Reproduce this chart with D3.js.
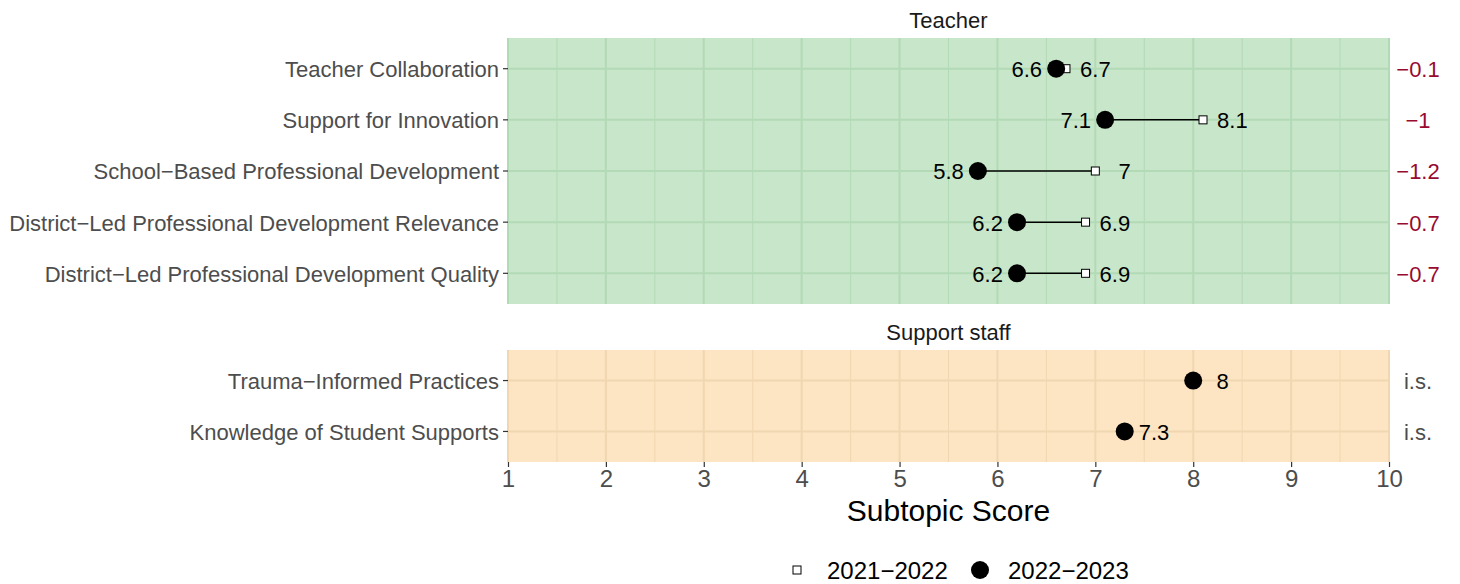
<!DOCTYPE html>
<html>
<head>
<meta charset="utf-8">
<script src="https://cdn.jsdelivr.net/npm/d3@7"></script>
<style>
  body { margin: 0; background: #fff; }
  text { font-family: "Liberation Sans", Arial, sans-serif; }
</style>
</head>
<body>
<div id="chart"></div>
<script>
// === data
var teacherTopics = ["Teacher Collaboration", "Support for Innovation", "School\u2212Based Professional Development",
  "District\u2212Led Professional Development Relevance", "District\u2212Led Professional Development Quality"];
var teacherPrev = [6.7, 8.1, 7, 6.9, 6.9];
var teacherCurr = [6.6, 7.1, 5.8, 6.2, 6.2];
var teacherDiff = ["\u22120.1", "\u22121", "\u22121.2", "\u22120.7", "\u22120.7"];

var staffTopics = ["Trauma\u2212Informed Practices", "Knowledge of Student Supports"];
var staffPrev = [null, null];
var staffCurr = [8, 7.3];
var staffDiff = ["i.s.", "i.s."];

var xTicks = [1, 2, 3, 4, 5, 6, 7, 8, 9, 10];
var legendLabels = ["2021\u22122022", "2022\u22122023"];

var W = 1460, H = 584;
var svg = d3.select("#chart").append("svg").attr("width", W).attr("height", H);

var x = d3.scaleLinear().domain([1, 10]).range([508, 1389]);

var panels = [
  { title: "Teacher", topics: teacherTopics, prev: teacherPrev, curr: teacherCurr, diff: teacherDiff,
    top: 38, bottom: 304, fill: "#c8e6c9", grid: "#b3dab6", diffColor: "#990a30" },
  { title: "Support staff", topics: staffTopics, prev: staffPrev, curr: staffCurr, diff: staffDiff,
    top: 350, bottom: 462, fill: "#fde4c2", grid: "#f1d7b1", diffColor: "#4d4d4d" }
];

panels.forEach(function(p) {
  var n = p.topics.length;
  var y = d3.scaleLinear().domain([-0.6, n - 1 + 0.6]).range([p.top, p.bottom]);
  var g = svg.append("g");

  // panel background
  g.append("rect").attr("x", x(1)).attr("y", p.top)
    .attr("width", x(10) - x(1)).attr("height", p.bottom - p.top)
    .attr("fill", p.fill);

  // minor grid
  g.selectAll(".minor").data(d3.range(1.5, 10, 1)).enter().append("line")
    .attr("x1", function(d) { return x(d); }).attr("x2", function(d) { return x(d); })
    .attr("y1", p.top).attr("y2", p.bottom)
    .attr("stroke", p.grid).attr("stroke-width", 1);
  // major grid
  g.selectAll(".major").data(xTicks).enter().append("line")
    .attr("x1", function(d) { return x(d); }).attr("x2", function(d) { return x(d); })
    .attr("y1", p.top).attr("y2", p.bottom)
    .attr("stroke", p.grid).attr("stroke-width", 2);
  g.selectAll(".hgrid").data(d3.range(n)).enter().append("line")
    .attr("x1", x(1)).attr("x2", x(10))
    .attr("y1", function(d) { return y(d); }).attr("y2", function(d) { return y(d); })
    .attr("stroke", p.grid).attr("stroke-width", 2);

  // strip title
  g.append("text").attr("x", (x(1) + x(10)) / 2).attr("y", p.top - 10)
    .attr("text-anchor", "middle").attr("font-size", 22).attr("fill", "#1a1a1a")
    .text(p.title);

  // y axis labels + ticks
  p.topics.forEach(function(t, i) {
    g.append("line").attr("x1", x(1) - 5).attr("x2", x(1))
      .attr("y1", y(i)).attr("y2", y(i)).attr("stroke", "#333").attr("stroke-width", 1.2);
    g.append("text").attr("x", x(1) - 9).attr("y", y(i)).attr("dy", "0.38em")
      .attr("text-anchor", "end").attr("font-size", 22).attr("fill", "#4d4d4d").text(t);

    var prev = p.prev[i], curr = p.curr[i];
    if (prev !== null) {
      g.append("line").attr("x1", x(curr)).attr("x2", x(prev))
        .attr("y1", y(i)).attr("y2", y(i)).attr("stroke", "#000").attr("stroke-width", 1.5);
      g.append("rect").attr("x", x(prev) - 4).attr("y", y(i) - 4)
        .attr("width", 8).attr("height", 8)
        .attr("fill", "#fff").attr("stroke", "#000").attr("stroke-width", 1);
      g.append("text").attr("x", x(prev + 0.3)).attr("y", y(i)).attr("dy", "0.38em")
        .attr("text-anchor", "middle").attr("font-size", 22).attr("fill", "#000").text(prev);
    }
    g.append("circle").attr("cx", x(curr)).attr("cy", y(i)).attr("r", 9).attr("fill", "#000");
    var side = (prev !== null && curr < prev) ? -0.3 : 0.3;
    g.append("text").attr("x", x(curr + side)).attr("y", y(i)).attr("dy", "0.38em")
      .attr("text-anchor", "middle").attr("font-size", 22).attr("fill", "#000").text(curr);

    // change label on right
    g.append("text").attr("x", 1418).attr("y", y(i)).attr("dy", "0.38em")
      .attr("text-anchor", "middle").attr("font-size", 22).attr("fill", p.diffColor).text(p.diff[i]);
  });
});

// x axis
var xAxis = svg.append("g").attr("transform", "translate(0,462)")
  .call(d3.axisBottom(x).tickValues(xTicks).tickSize(5).tickPadding(3).tickFormat(d3.format("d")));
xAxis.select(".domain").remove();
xAxis.selectAll(".tick line").attr("stroke", "#333").attr("stroke-width", 1.2);
xAxis.selectAll(".tick text").attr("font-size", 24).attr("fill", "#4d4d4d")
  .attr("font-family", "Liberation Sans, Arial, sans-serif");

svg.append("text").attr("x", (x(1) + x(10)) / 2).attr("y", 521)
  .attr("text-anchor", "middle").attr("font-size", 30).attr("fill", "#000").text("Subtopic Score");

// legend
var leg = svg.append("g");
leg.append("rect").attr("x", 793).attr("y", 566).attr("width", 8).attr("height", 8)
  .attr("fill", "#fff").attr("stroke", "#000");
leg.append("text").attr("x", 827).attr("y", 571).attr("dy", "0.35em")
  .attr("font-size", 24).attr("fill", "#000").text(legendLabels[0]);
leg.append("circle").attr("cx", 980).attr("cy", 570).attr("r", 9).attr("fill", "#000");
leg.append("text").attr("x", 1008).attr("y", 571).attr("dy", "0.35em")
  .attr("font-size", 24).attr("fill", "#000").text(legendLabels[1]);
</script>
</body>
</html>
